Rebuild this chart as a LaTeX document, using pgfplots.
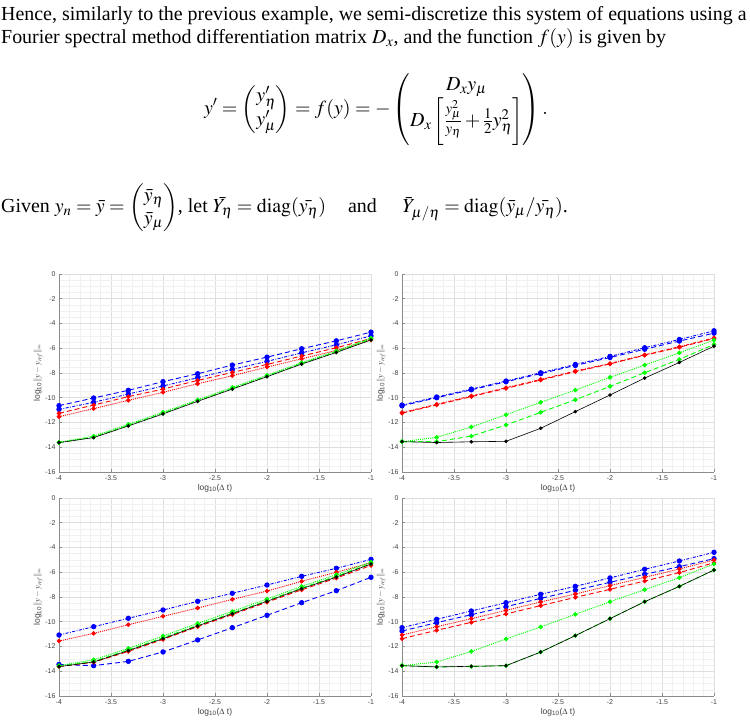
\documentclass[border=0pt]{standalone}
\usepackage{amsmath}
\usepackage{mathptmx}
\usepackage{fontspec}
\setmainfont{Liberation Serif}
\setsansfont{Liberation Sans}
\usepackage{pgfplots}
\usepackage{pgfplotstable}
\pgfplotsset{compat=1.18}

\definecolor{mblue}{RGB}{0,0,255}
\definecolor{mred}{RGB}{255,0,0}
\definecolor{mgreen}{RGB}{0,255,0}

% error data: log10 of the max-norm error against log10 of the step size
\pgfplotstableread{
x        bda     bdd     rda     rdo     gdo     gda     blk
-4       -10.64  -10.94  -11.26  -11.53  -13.60  -13.62  -13.63
-3.6667  -10.02  -10.37  -10.59  -10.88  -13.10  -13.18  -13.22
-3.3333  -9.40   -9.70   -9.91   -10.21  -12.15  -12.23  -12.28
-3       -8.70   -9.05   -9.30   -9.56   -11.17  -11.25  -11.31
-2.6667  -8.06   -8.38   -8.60   -8.87   -10.17  -10.24  -10.29
-2.3333  -7.36   -7.71   -7.95   -8.22   -9.17   -9.25   -9.30
-2       -6.72   -7.06   -7.31   -7.52   -8.18   -8.25   -8.30
-1.6667  -6.04   -6.37   -6.63   -6.85   -7.17   -7.24   -7.28
-1.3333  -5.40   -5.72   -5.96   -6.18   -6.22   -6.29   -6.34
-1       -4.70   -5.00   -5.21   -5.32   -5.18   -5.26   -5.33
}\tabTL

\pgfplotstableread{
x        bdd     bda     rdd     rda     gdo     gda     blk
-4       -10.59  -10.65  -11.20  -11.25  -13.55  -13.55  -13.55
-3.6667  -9.94   -10.00  -10.53  -10.58  -13.20  -13.55  -13.62
-3.3333  -9.30   -9.36   -9.86   -9.91   -12.36  -13.10  -13.56
-3       -8.65   -8.71   -9.19   -9.24   -11.37  -12.20  -13.52
-2.6667  -7.98   -8.05   -8.52   -8.57   -10.37  -11.18  -12.47
-2.3333  -7.31   -7.39   -7.84   -7.89   -9.38   -10.16  -11.12
-2       -6.66   -6.75   -7.23   -7.27   -8.35   -9.08   -9.78
-1.6667  -5.96   -6.08   -6.53   -6.57   -7.36   -7.98   -8.41
-1.3333  -5.29   -5.42   -5.88   -5.92   -6.37   -6.90   -7.15
-1       -4.59   -4.78   -5.16   -5.22   -5.34   -5.69   -5.83
}\tabTR

\pgfplotstableread{
x        bdd     rdo     gdo     gda     rda     blk     bda
-4       -11.07  -11.56  -13.55  -13.60  -13.62  -13.63  -13.45
-3.6667  -10.40  -10.94  -13.07  -13.20  -13.27  -13.25  -13.55
-3.3333  -9.72   -10.24  -12.15  -12.28  -12.40  -12.33  -13.20
-3       -9.05   -9.56   -11.15  -11.30  -11.42  -11.37  -12.44
-2.6667  -8.35   -8.89   -10.13  -10.28  -10.40  -10.34  -11.47
-2.3333  -7.70   -8.19   -9.16   -9.30   -9.42   -9.35   -10.48
-2       -7.03   -7.52   -8.16   -8.30   -8.42   -8.35   -9.48
-1.6667  -6.33   -6.73   -7.14   -7.28   -7.42   -7.33   -8.46
-1.3333  -5.68   -6.00   -6.20   -6.33   -6.47   -6.39   -7.49
-1       -4.96   -5.23   -5.17   -5.28   -5.45   -5.33   -6.41
}\tabBL

\pgfplotstableread{
x        bdd     bda     rdo     rda     gdo     gda     blk
-4       -10.48  -10.75  -11.07  -11.37  -13.55  -13.55  -13.55
-3.6667  -9.80   -10.07  -10.40  -10.69  -13.25  -13.65  -13.65
-3.3333  -9.13   -9.43   -9.75   -10.05  -12.40  -13.62  -13.60
-3       -8.46   -8.78   -9.08   -9.37   -11.39  -13.55  -13.55
-2.6667  -7.78   -8.11   -8.40   -8.70   -10.42  -12.45  -12.45
-2.3333  -7.14   -7.46   -7.76   -8.03   -9.40   -11.12  -11.12
-2       -6.46   -6.81   -7.08   -7.38   -8.38   -9.75   -9.75
-1.6667  -5.76   -6.17   -6.41   -6.71   -7.41   -8.38   -8.38
-1.3333  -5.09   -5.55   -5.74   -6.03   -6.44   -7.14   -7.14
-1       -4.39   -4.90   -5.01   -5.23   -5.33   -5.82   -5.82
}\tabBR

\pgfplotsset{
  errax/.style={
    scale only axis, width=312bp, height=198bp,
    xmin=-4, xmax=-1, ymin=-16, ymax=0,
    xtick={-4,-3.5,-3,-2.5,-2,-1.5,-1},
    ytick={-16,-14,-12,-10,-8,-6,-4,-2,0},
    minor x tick num=4, minor y tick num=3,
    grid=both,
    major grid style={draw=black!13, line width=0.5bp},
    minor grid style={draw=black!6, line width=0.4bp},
    axis x line*=bottom, axis y line*=left,
    axis line style={draw=black!45, line width=0.6bp, -},
    major tick style={draw=black!45, line width=0.5bp},
    major tick length=3bp, minor tick length=0pt,
    tick align=inside,
    /pgf/number format/assume math mode=true,
    ticklabel style={font=\sffamily\fontsize{7}{8}\selectfont, text=black!75},
    xlabel={log\textsubscript{10}($\Delta$ t)},
    ylabel={log\textsubscript{10}$\|y - y_{\mathit{ref}}\|_\infty$},
    label style={font=\sffamily\fontsize{8.5}{9}\selectfont, text=black!75},
    xlabel style={yshift=3bp},
    ylabel style={yshift=-4bp},
    clip=false,
  },
  sline/.style={line width=0.9bp, mark=*, mark size=1.8bp, mark options={solid}},
  bdd/.style={sline, mblue, dash pattern=on 3bp off 1.5bp on 0.8bp off 1.5bp, mark size=2.2bp},
  bda/.style={sline, mblue, dash pattern=on 5bp off 3bp, mark size=2.2bp},
  rdo/.style={sline, mred, dash pattern=on 1bp off 1bp},
  rdd/.style={sline, mred, dash pattern=on 3bp off 1.5bp on 0.8bp off 1.5bp},
  rda/.style={sline, mred, dash pattern=on 5bp off 3bp},
  gdo/.style={sline, mgreen, dash pattern=on 1bp off 1bp},
  gda/.style={sline, mgreen, dash pattern=on 5bp off 3bp},
  blk/.style={sline, black, line width=0.6bp, mark size=1.5bp},
}

\begin{document}
\begin{tikzpicture}
\path[use as bounding box] (0bp,0bp) rectangle (750bp,724bp);

% text above the plots
\begin{scope}[every node/.style={inner sep=0pt, font=\fontsize{20}{23}\selectfont}]
\node[anchor=base west] at (1bp,703bp) {Hence, similarly to the previous example, we semi-discretize this system of equations using a};
\node[anchor=base west] at (1bp,680bp) {Fourier spectral method differentiation matrix $D_x$, and the function $f(y)$ is given by};
\node at (376bp,614bp) {$\displaystyle y' = \begin{pmatrix} y'_\eta \\ y'_\mu \end{pmatrix} = f(y) = -\begin{pmatrix} D_x y_\mu \\ D_x \left[\frac{y_\mu^2}{y_\eta} + \frac{1}{2} y_\eta^2\right]\end{pmatrix}.$};
\node[anchor=base west] at (1bp,511bp) {Given $y_n = \bar{y} = \begin{pmatrix}\bar{y}_\eta \\ \bar{y}_\mu\end{pmatrix}$, let $\bar{Y_\eta} = \mathrm{diag}(\bar{y_\eta})$\quad\hspace{0.1em}and\quad\hspace{0.3em}$\bar{Y}_{\mu/\eta} = \mathrm{diag}(\bar{y}_\mu/\bar{y_\eta})$.};
\end{scope}

% top left
\begin{axis}[errax, at={(59bp,252bp)}, anchor=south west]
\addplot[bdd] table[x=x, y=bdd] {\tabTL};
\addplot[bda] table[x=x, y=bda] {\tabTL};
\addplot[rdo] table[x=x, y=rdo] {\tabTL};
\addplot[rda] table[x=x, y=rda] {\tabTL};
\addplot[gda] table[x=x, y=gda] {\tabTL};
\addplot[gdo] table[x=x, y=gdo] {\tabTL};
\addplot[blk] table[x=x, y=blk] {\tabTL};
\end{axis}

% top right
\begin{axis}[errax, at={(402bp,252bp)}, anchor=south west]
\addplot[bda] table[x=x, y=bda] {\tabTR};
\addplot[bdd] table[x=x, y=bdd] {\tabTR};
\addplot[rda] table[x=x, y=rda] {\tabTR};
\addplot[rdd] table[x=x, y=rdd] {\tabTR};
\addplot[gda] table[x=x, y=gda] {\tabTR};
\addplot[gdo] table[x=x, y=gdo] {\tabTR};
\addplot[blk] table[x=x, y=blk] {\tabTR};
\end{axis}

% bottom left
\begin{axis}[errax, at={(59bp,28bp)}, anchor=south west]
\addplot[bda] table[x=x, y=bda] {\tabBL};
\addplot[bdd] table[x=x, y=bdd] {\tabBL};
\addplot[rdo] table[x=x, y=rdo] {\tabBL};
\addplot[rda] table[x=x, y=rda] {\tabBL};
\addplot[gda] table[x=x, y=gda] {\tabBL};
\addplot[gdo] table[x=x, y=gdo] {\tabBL};
\addplot[blk] table[x=x, y=blk] {\tabBL};
\end{axis}

% bottom right
\begin{axis}[errax, at={(402bp,28bp)}, anchor=south west]
\addplot[bda] table[x=x, y=bda] {\tabBR};
\addplot[bdd] table[x=x, y=bdd] {\tabBR};
\addplot[rda] table[x=x, y=rda] {\tabBR};
\addplot[rdo] table[x=x, y=rdo] {\tabBR};
\addplot[gdo] table[x=x, y=gdo] {\tabBR};
\addplot[gda] table[x=x, y=gda] {\tabBR};
\addplot[blk] table[x=x, y=blk] {\tabBR};
\end{axis}
\end{tikzpicture}
\end{document}
